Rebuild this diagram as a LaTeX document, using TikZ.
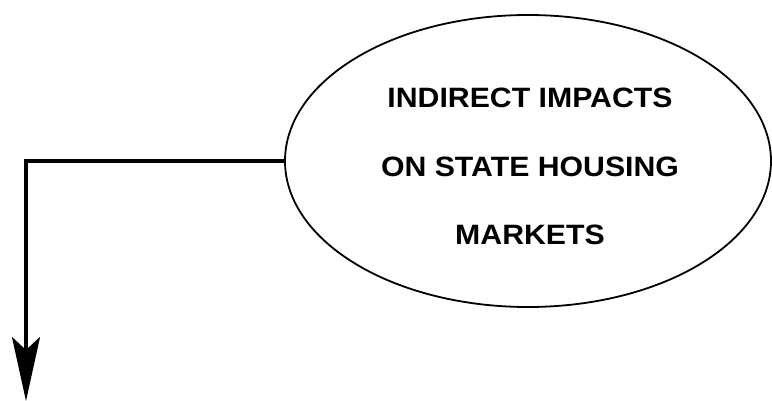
\documentclass[tikz,border=0pt]{standalone}
\usepackage{fontspec}
\setmainfont{Liberation Sans}
\newfontfamily\widesans[FakeStretch=1.08]{Liberation Sans}
\usetikzlibrary{shapes.geometric,arrows.meta}
\begin{document}
\begin{tikzpicture}[x=1pt,y=-1pt,
  bubble/.style={ellipse,draw,line width=1.8pt,minimum width=486pt,minimum height=292pt,inner sep=0pt},
  label/.style={font=\widesans\fontsize{28}{28}\selectfont\bfseries,align=center},
  flow/.style={line width=3.2pt,-{Stealth[length=64pt,width=28pt,inset=13pt]}}]
\useasboundingbox (0,0) rectangle (772,401);
\fill[white] (0,0) rectangle (772,401);
\node[bubble] (impact) at (528,161) {};
\node[label] (l1) at (530,98) {INDIRECT IMPACTS};
\node[label] (l2) at (530,167) {ON STATE HOUSING};
\node[label] (l3) at (530,235) {MARKETS};
\coordinate (corner) at (26,161);
\coordinate (down) at (26,401);
\draw[flow] (impact.west) -- (corner) -- (down);
\end{tikzpicture}
\end{document}
